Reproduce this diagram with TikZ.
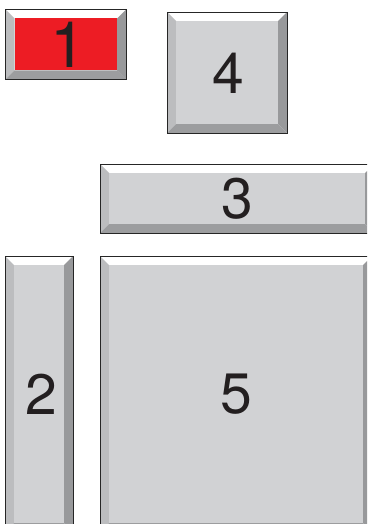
\documentclass[tikz,border=0pt]{standalone}
\usepackage{fontspec}
\setmainfont{TeX Gyre Heros}
\definecolor{keyface}{HTML}{D1D2D4}
\definecolor{keyleft}{HTML}{BCBDBF}
\definecolor{keyright}{HTML}{98999B}
\definecolor{keybottom}{HTML}{9C9D9F}
\definecolor{keyred}{HTML}{ED1C24}
\definecolor{keyink}{HTML}{231F20}
\newcommand\bw{9}
% #1 x1, #2 y1, #3 x2, #4 y2, #5 face colour
\newcommand\keycap[5]{%
  \fill[white] (#1,#2) -- (#3,#2) -- ({#3-\bw},{#2+\bw}) -- ({#1+\bw},{#2+\bw}) -- cycle;
  \fill[keyleft] (#1,#2) -- ({#1+\bw},{#2+\bw}) -- ({#1+\bw},{#4-\bw}) -- (#1,#4) -- cycle;
  \fill[keyright] (#3,#2) -- (#3,#4) -- ({#3-\bw},{#4-\bw}) -- ({#3-\bw},{#2+\bw}) -- cycle;
  \fill[keybottom] (#1,#4) -- (#3,#4) -- ({#3-\bw},{#4-\bw}) -- ({#1+\bw},{#4-\bw}) -- cycle;
  \fill[#5] ({#1+\bw},{#2+\bw}) rectangle ({#3-\bw},{#4-\bw});
  \draw[keyborder] (#1,#2) rectangle (#3,#4);
}
\begin{document}
\begin{tikzpicture}[x=1pt,y=-1pt,
  keyborder/.style={draw=black!85, line width=0.9pt},
  keylabel/.style={inner sep=0pt, text=keyink, font=\fontsize{57}{60}\selectfont}]
\useasboundingbox (0,0) rectangle (367,524);
\clip (0,0) rectangle (367,524);
\keycap{5.5}{9.5}{126}{79.5}{keyred}
\keycap{167}{12}{287}{133}{keyface}
\keycap{100}{164}{374}{233}{keyface}
\keycap{5}{256}{73}{532}{keyface}
\keycap{100}{256}{372}{532}{keyface}
\node[keylabel, font=\fontsize{64}{66}\selectfont] (k1) at (68,44.5) {1};
\node[keylabel] (k4) at (228,73) {4};
\node[keylabel] (k3) at (237,199) {3};
\node[keylabel] (k2) at (41,394) {2};
\node[keylabel] (k5) at (236,394) {5};
\end{tikzpicture}
\end{document}
